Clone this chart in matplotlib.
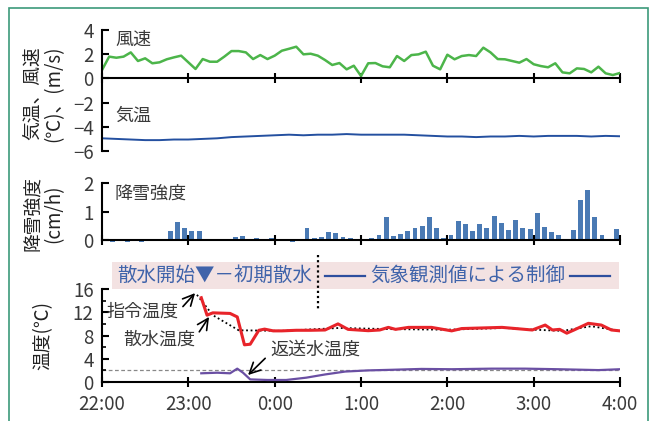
import matplotlib
matplotlib.use('Agg')
import matplotlib.pyplot as plt
import matplotlib.transforms as mtransforms
from matplotlib.patches import Rectangle
from matplotlib.lines import Line2D
import numpy as np

plt.rcParams['font.family'] = ['Noto Sans CJK JP', 'DejaVu Sans']

# 時刻ラベル (22:00 からの経過分で扱う)
hour_labels = ['22:00', '23:00', '0:00', '1:00', '2:00', '3:00', '4:00']

# 風速 (m/s) 5分毎
wind = [0.69, 1.8, 1.71, 1.8, 2.15, 1.44, 1.66, 1.25, 1.33, 1.58, 1.74, 1.88,
        1.33, 0.78, 1.6, 1.38, 1.38, 1.8, 2.26, 2.26, 2.15, 1.6, 1.93, 1.6,
        1.88, 2.29, 2.45, 2.62, 1.99, 2.04, 1.88, 1.52, 1.11, 1.27, 0.75, 1.05,
        0.2, 1.25, 1.27, 1.0, 0.92, 1.85, 1.44, 1.93, 1.99, 2.21, 1.05, 0.75,
        1.96, 1.58, 1.85, 1.93, 1.85, 2.54, 2.15, 1.6, 1.58, 1.44, 1.3, 1.6,
        1.17, 1.02, 0.92, 1.25, 0.5, 0.42, 0.83, 0.78, 0.5, 0.97, 0.42, 0.28, 0.45]

# 気温 (℃) 10分毎
air_temp = [-4.95, -5.0, -5.05, -5.1, -5.1, -5.05, -5.05, -5.0, -4.95, -4.85,
            -4.8, -4.75, -4.7, -4.65, -4.7, -4.65, -4.65, -4.6, -4.65, -4.65,
            -4.65, -4.65, -4.7, -4.75, -4.8, -4.8, -4.85, -4.8, -4.8, -4.75,
            -4.8, -4.75, -4.75, -4.75, -4.8, -4.75, -4.78]

# 降雪強度 (cm/h) 5分毎
snow = [0.03, -0.08, 0, -0.07, 0, -0.07, 0.04, 0, 0, 0.33, 0.64, 0.43,
        0.33, 0.33, 0.03, 0, 0, 0, 0.12, 0.15, 0, 0.07, 0.05, 0.07,
        0, 0.04, -0.08, 0, 0.43, 0.07, 0.1, 0.28, 0.25, 0.1, 0.07, 0,
        0, 0.07, 0.18, 0.82, 0.14, 0.2, 0.32, 0.43, 0.5, 0.82, 0.43, 0.07,
        0.18, 0.67, 0.56, 0.32, 0.56, 0.42, 0.85, 0.6, 0.35, 0.7, 0.42, 0.39,
        0.95, 0.46, 0.28, 0.18, 0.04, 0.35, 1.41, 1.76, 0.81, 0.18, 0.04, 0.39]

# 散水温度
spray_t = [69, 73, 77, 89, 94, 99, 103, 109, 113, 119, 125, 135, 145, 155, 164,
           171, 185, 193, 199, 204, 213, 229, 243, 250, 278, 299, 308, 313, 318,
           323, 328, 338, 347, 354, 360]
spray = [14.5, 11.5, 11.9, 11.8, 11.2, 6.4, 6.5, 8.9, 9.1, 8.8, 8.8, 8.9, 8.9,
         8.95, 10.0, 9.06, 8.83, 8.95, 9.4, 9.06, 9.4, 9.4, 8.8, 9.2, 9.4, 8.95,
         9.8, 8.95, 9.06, 8.4, 8.95, 10.1, 9.8, 8.95, 8.8]

# 指令温度
cmd_t = [66, 77, 95, 125, 165, 200, 240, 280, 300, 320, 340, 360]
cmd = [15.0, 11.5, 8.9, 8.8, 9.3, 9.1, 9.0, 9.3, 9.0, 8.8, 9.6, 8.8]

# 返送水温度
ret_t = [69, 80, 89, 94, 98, 103, 115, 128, 142, 155, 169, 185, 201, 222, 243,
         271, 294, 317, 345, 360]
ret = [1.5, 1.6, 1.5, 2.3, 1.6, 0.45, 0.35, 0.35, 0.75, 1.3, 1.8, 2.0, 2.1,
       2.25, 2.2, 2.3, 2.3, 2.2, 2.05, 2.2]

ref_level = 2.0
switch_t = 150  # 0:30 制御切替

wind_t = np.arange(len(wind)) * 5
temp_t = np.arange(len(air_temp)) * 10
snow_t = np.arange(len(snow)) * 5 + 2.5

txt_c = '#3a3a3a'
blue_txt = '#3f63aa'

fig = plt.figure(figsize=(6.5, 4.21), dpi=100)

L, W = 0.1569, 0.797
ax1 = fig.add_axes([L, 0.6413, W, 0.2874])
ax2 = fig.add_axes([L, 0.4299, W, 0.1354])
ax3 = fig.add_axes([L, 0.0926, W, 0.2209])

for ax in (ax1, ax2, ax3):
    ax.patch.set_visible(False)
    for s in ['top', 'right']:
        ax.spines[s].set_visible(False)
    for s in ['left', 'bottom']:
        ax.spines[s].set_linewidth(1.5)
    ax.set_xlim(0, 360)
    ax.set_xticks(range(0, 361, 60))
    ax.tick_params(axis='x', direction='inout', length=7, width=1.5)
    ax.tick_params(axis='y', direction='in', length=5, width=1.5,
                   labelsize=13.5, labelcolor=txt_c, pad=6)

# 上段: 風速・気温
ax1.plot(wind_t, wind, color='#4cb54a', lw=1.8)
ax1.plot(temp_t, air_temp, color='#2450a0', lw=1.4)
ax1.set_ylim(-6, 4)
ax1.set_yticks(range(-6, 5, 2))
ax1.spines['bottom'].set_position(('data', 0))
ax1.tick_params(axis='x', labelbottom=False)
ax1.text(0.025, 0.915, '風速', transform=ax1.transAxes, fontsize=13,
         color=txt_c, va='center')
ax1.text(0.025, 0.29, '気温', transform=ax1.transAxes, fontsize=13,
         color=txt_c, va='center')

# 中段: 降雪強度
ax2.bar(snow_t, snow, width=3.4, color='#4a7ab4', clip_on=False, zorder=1)
ax2.set_ylim(0, 2)
ax2.set_yticks([0, 1, 2])
ax2.tick_params(axis='x', labelbottom=False)
ax2.text(0.025, 0.82, '降雪強度', transform=ax2.transAxes, fontsize=13,
         color=txt_c, va='center')

# 下段: 温度
ax3.axhline(ref_level, color='#888888', lw=0.9, ls=(0, (3, 2)), zorder=1)
ax3.plot(cmd_t, cmd, color='black', lw=1.3, ls=(0, (1, 1.5)), zorder=2)
ax3.plot(spray_t, spray, color='#e8242a', lw=2.2, zorder=3)
ax3.plot(ret_t, ret, color='#6a4fa3', lw=1.6, zorder=3)
ax3.set_ylim(0, 16)
ax3.set_yticks(range(0, 17, 4))
ax3.set_yticks(range(2, 17, 4), minor=True)
ax3.tick_params(axis='y', which='minor', direction='in', length=3, width=1.2)
ax3.set_xticklabels(hour_labels)
ax3.tick_params(axis='x', labelsize=13.5, labelcolor=txt_c, pad=5)

arrow = dict(arrowstyle='->,head_length=0.6,head_width=0.3', color='black',
             lw=1.2, shrinkA=2, shrinkB=0)
ax3.annotate('指令温度', xy=(64.7, 15.3), xytext=(28, 12.1), ha='center',
             va='center', fontsize=13, color=txt_c,
             arrowprops=dict(arrow, relpos=(1, 0.5)))
ax3.annotate('散水温度', xy=(74.4, 11.2), xytext=(39.6, 7.2), ha='center',
             va='center', fontsize=13, color=txt_c,
             arrowprops=dict(arrow, relpos=(1, 0.6)))
ax3.annotate('返送水温度', xy=(101.5, 1.2), xytext=(148, 5.5), ha='center',
             va='center', fontsize=13, color=txt_c,
             arrowprops=dict(arrow, relpos=(0, 0.3)))

# 縦軸ラベル
fig.text(0.066, 0.778, '気温、風速\n(℃)、(m/s)', rotation=90, ha='center',
         va='center', fontsize=13.5, color='#222222', linespacing=1.0)
fig.text(0.066, 0.492, '降雪強度\n(cm/h)', rotation=90, ha='center',
         va='center', fontsize=13.5, color='#222222', linespacing=1.0)
fig.text(0.066, 0.204, '温度(℃)', rotation=90, ha='center', va='center',
         fontsize=13.5, color='#222222')

# 帯
fig.patches.append(Rectangle((0.1723, 0.3135), 0.7797, 0.0642,
                             transform=fig.transFigure, facecolor='#f3e2e2',
                             edgecolor='none', zorder=0))
fig.text(0.18, 0.3456, '散水開始▼－初期散水', ha='left', va='center',
         fontsize=14, color=blue_txt)
fig.text(0.719, 0.3456, '気象観測値による制御', ha='center', va='center',
         fontsize=14, color=blue_txt)
for x0, x1 in [(0.5, 0.5615), (0.877, 0.9385)]:
    fig.lines.append(Line2D([x0, x1], [0.3456, 0.3456], color='#2d4f9e',
                            lw=1.6, transform=fig.transFigure))

trans = mtransforms.blended_transform_factory(ax3.transData, fig.transFigure)
fig.lines.append(Line2D([switch_t, switch_t], [0.394, 0.266], color='black',
                        lw=1.6, ls=(0, (1, 1.3)), transform=trans))

# 外枠
fig.patches.append(Rectangle((9 / 650, -0.1), 639 / 650, 1 - 8 / 421 + 0.1,
                             transform=fig.transFigure, fill=False,
                             edgecolor='#3c9a7a', lw=1.2))

fig.savefig('out.png', dpi=100)
